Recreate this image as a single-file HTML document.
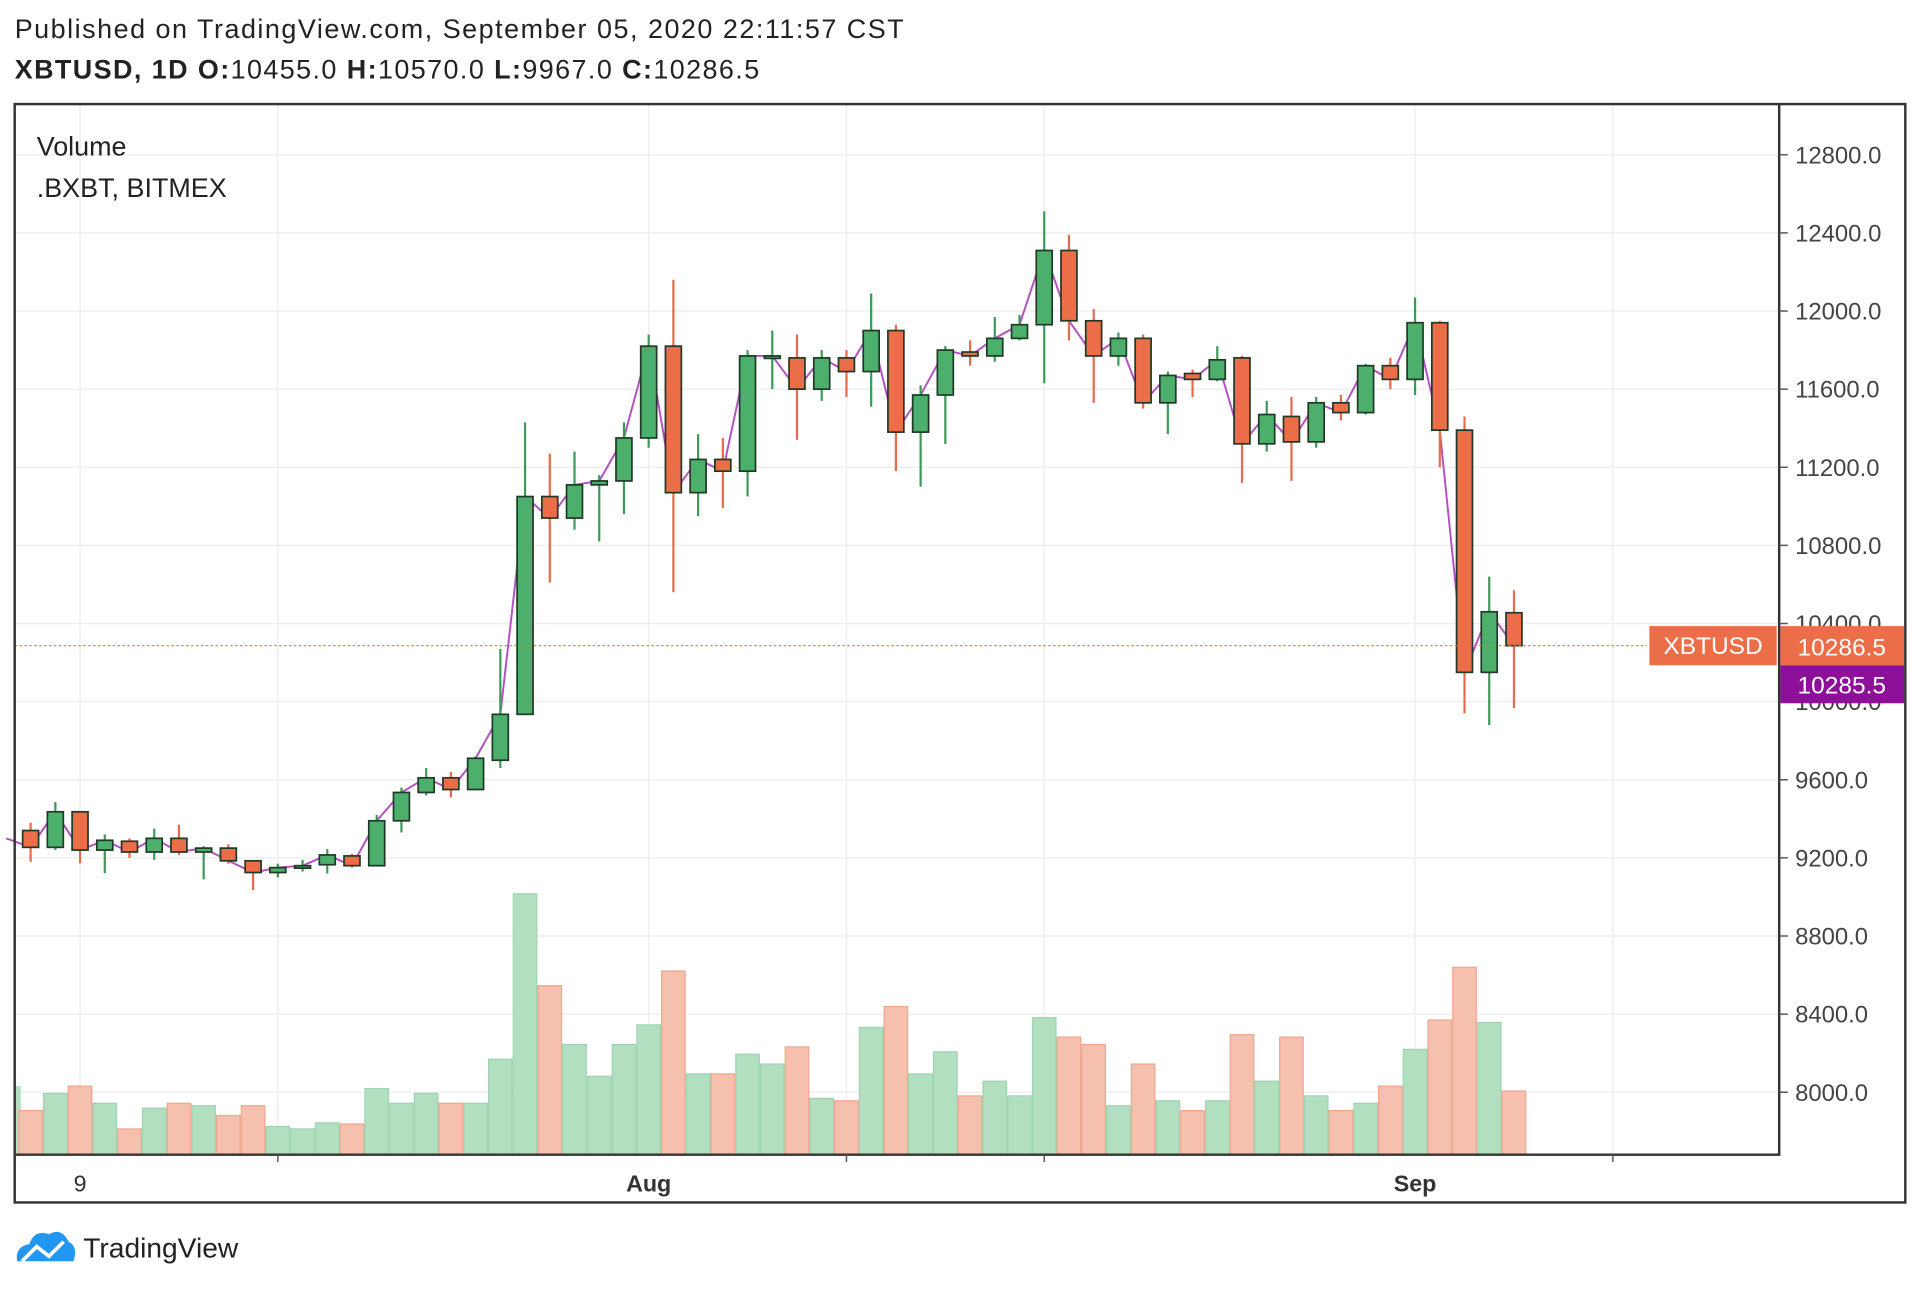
<!DOCTYPE html>
<html><head><meta charset="utf-8">
<style>
html,body{margin:0;padding:0;background:#fff;width:1920px;height:1290px;overflow:hidden}
svg{display:block}
text{font-family:"Liberation Sans",Arial,sans-serif}
</style></head>
<body>
<svg id="chart" width="1920" height="1290" viewBox="0 0 1568 1053.5" preserveAspectRatio="none" xmlns="http://www.w3.org/2000/svg">
<text x="12" y="31" font-size="22" fill="#222" textLength="726" lengthAdjust="spacing">Published on TradingView.com, September 05, 2020 22:11:57 CST</text>
<text x="12" y="64" font-size="22" fill="#222" textLength="608" lengthAdjust="spacing"><tspan font-weight="bold">XBTUSD, 1D  O:</tspan>10455.0 <tspan font-weight="bold">H:</tspan>10570.0 <tspan font-weight="bold">L:</tspan>9967.0 <tspan font-weight="bold">C:</tspan>10286.5</text>
<g id="grid"></g>
<g id="vol"></g>
<g id="candles"></g>
<g id="axes"></g>
<text x="30" y="127" font-size="22" fill="#222">Volume</text>
<text x="30" y="161" font-size="22" fill="#222">.BXBT, BITMEX</text>
<g>
<path d="M14 1030 Q12 1018 24 1016 Q28 1004 40 1008 Q50 1002 56 1014 Q64 1018 60 1030 Z" fill="#2196f3"/>
<path d="M18 1030 L30 1018 L40 1026 L52 1014" stroke="#fff" stroke-width="3" fill="none"/>
<text x="68" y="1027" font-size="23" fill="#222">TradingView</text>
</g>
</svg>
<script>
const dates=["Jul 7","Jul 8","Jul 9","Jul 10","Jul 11","Jul 12","Jul 13","Jul 14","Jul 15","Jul 16","Jul 17","Jul 18","Jul 19","Jul 20","Jul 21","Jul 22","Jul 23","Jul 24","Jul 25","Jul 26","Jul 27","Jul 28","Jul 29","Jul 30","Jul 31","Aug 1","Aug 2","Aug 3","Aug 4","Aug 5","Aug 6","Aug 7","Aug 8","Aug 9","Aug 10","Aug 11","Aug 12","Aug 13","Aug 14","Aug 15","Aug 16","Aug 17","Aug 18","Aug 19","Aug 20","Aug 21","Aug 22","Aug 23","Aug 24","Aug 25","Aug 26","Aug 27","Aug 28","Aug 29","Aug 30","Aug 31","Sep 1","Sep 2","Sep 3","Sep 4","Sep 5"];
const opens=[9340,9254,9436,9240,9285,9230,9300,9230,9250,9185,9125,9150,9165,9210,9160,9390,9535,9610,9550,9700,9935,11050,10940,11110,11130,11350,11820,11070,11240,11180,11760,11760,11600,11760,11690,11900,11380,11570,11790,11770,11860,11930,12310,11950,11770,11860,11530,11680,11650,11760,11320,11460,11330,11530,11480,11720,11650,11940,11390,10150,10455];
const highs=[9380,9486,9440,9320,9300,9350,9370,9260,9270,9160,9170,9190,9245,9220,9420,9560,9660,9640,9720,10270,11430,11270,11280,11160,11430,11880,12160,11370,11350,11800,11900,11880,11800,11800,12090,11930,11620,11820,11850,11970,11980,12510,12390,12010,11890,11880,11690,11700,11820,11770,11540,11560,11560,11570,11730,11760,12070,11950,11460,10640,10570];
const lows=[9180,9240,9172,9122,9200,9190,9215,9090,9170,9035,9100,9130,9120,9150,9160,9330,9520,9510,9545,9660,9935,10610,10880,10820,10960,11300,10560,10950,10990,11050,11600,11340,11540,11560,11510,11180,11100,11320,11720,11740,11850,11630,11850,11530,11720,11500,11370,11560,11640,11120,11280,11130,11300,11440,11470,11600,11570,11200,9940,9880,9967];
const closes=[9254,9436,9240,9290,9230,9300,9230,9250,9185,9125,9150,9160,9215,9160,9390,9535,9610,9550,9710,9935,11050,10940,11110,11130,11350,11820,11070,11240,11180,11770,11770,11600,11760,11690,11900,11380,11570,11800,11770,11860,11930,12310,11950,11770,11860,11530,11670,11650,11750,11320,11470,11330,11530,11480,11720,11650,11940,11390,10150,10460,10286.5];
const volumes=[36,50,56,42,21,38,42,40,32,40,23,21,26,25,54,42,50,42,42,78,213,138,90,64,90,106,150,66,66,82,74,88,46,44,104,121,66,84,48,60,48,112,96,90,40,74,44,36,44,98,60,96,48,36,42,56,86,110,153,108,52];
const priceTicks=[12800,12400,12000,11600,11200,10800,10400,10000,9600,9200,8800,8400,8000];
const timeLabels=["9","Aug","Sep"];
const timeLabelIdx=[2,25,56];
const lastPrice=10286.5, lastPrice2=10285.5;

const NS="http://www.w3.org/2000/svg";
const L=12,T=85,R=1556,B=982,PR=1453,PB=943;
const xOf=i=>25+i*20.19;
const yOf=p=>573-(p-10000)*63.8/400;
const yVol=v=>PB-v;
function mk(parent,tag,attrs){const e=document.createElementNS(NS,tag);for(const k in attrs)e.setAttribute(k,attrs[k]);parent.appendChild(e);return e;}
const grid=document.getElementById('grid'),vol=document.getElementById('vol'),cg=document.getElementById('candles'),ax=document.getElementById('axes');
priceTicks.forEach(p=>{const g=mk(grid,'line',{x1:L,x2:PR,y1:yOf(p),y2:yOf(p),stroke:'#efefef','stroke-width':1.2});

});
[2,10,25,33,41,56,64].forEach(i=>{const g=mk(grid,'line',{x1:xOf(i),x2:xOf(i),y1:T,y2:PB,stroke:'#efefef','stroke-width':1.2});

});
const v0=mk(vol,'rect',{x:L,y:yVol(56),width:5,height:56,fill:'#b3dfc1'});


volumes.forEach((v,i)=>{const up=closes[i]>=opens[i];
const r=mk(vol,'rect',{x:xOf(i)-9.6,y:yVol(v),width:19.2,height:v,fill:up?'#b3dfc1':'#f6c0ae',stroke:up?'#9fd4b0':'#eea68f','stroke-width':1});

});
const pts=closes.map((c,i)=>xOf(i)+','+yOf(c)).join(' ');
const pl=mk(cg,'polyline',{points:'5,'+yOf(9300)+' '+pts,fill:'none',stroke:'#b44fc4','stroke-width':1.6});


dates.forEach((d,i)=>{const up=closes[i]>=opens[i];const col=up?'#4cb06c':'#ec6e48';const wick=up?'#3c9a58':'#e86a4a';
const x=xOf(i);
const w=mk(cg,'line',{x1:x,x2:x,y1:yOf(highs[i]),y2:yOf(lows[i]),stroke:wick,'stroke-width':1.8});


const top=yOf(Math.max(opens[i],closes[i])),bot=yOf(Math.min(opens[i],closes[i]));
const b=mk(cg,'rect',{x:x-6.5,y:top,width:13,height:Math.max(bot-top,2),fill:col,stroke:'#1f3a26','stroke-width':1.4});

});
const lp=mk(ax,'line',{x1:L,x2:1345,y1:yOf(lastPrice),y2:yOf(lastPrice),stroke:'#ec6e48','stroke-width':1,'stroke-dasharray':'2,2'});


const fr=mk(ax,'rect',{x:L,y:T,width:R-L,height:B-T,fill:'none',stroke:'#333','stroke-width':2});


const pa=mk(ax,'line',{x1:PR,x2:PR,y1:T,y2:PB,stroke:'#333','stroke-width':2});


const ta=mk(ax,'line',{x1:L,x2:PR+1,y1:PB,y2:PB,stroke:'#333','stroke-width':2});


priceTicks.forEach(p=>{const y=yOf(p);
mk(ax,'line',{x1:PR,x2:PR+7,y1:y,y2:y,stroke:'#555','stroke-width':1.2});
const t=mk(ax,'text',{x:1466,y:y+7,'font-size':19.5,fill:'#444'});t.textContent=p.toFixed(1);

});
[10,33,41,64].forEach(i=>mk(ax,'line',{x1:xOf(i),x2:xOf(i),y1:PB,y2:PB+6,stroke:'#555','stroke-width':1.2}));
timeLabels.forEach((s,k)=>{const t=mk(ax,'text',{x:xOf(timeLabelIdx[k]),y:973,'font-size':19,fill:'#333','text-anchor':'middle','font-weight':s==='9'?'normal':'bold'});t.textContent=s;

});
const yl=yOf(lastPrice);
const sb=mk(ax,'rect',{x:1347,y:yl-16,width:104,height:32,fill:'#ec6e48'});


const st=mk(ax,'text',{x:1399,y:yl+7,'font-size':20,fill:'#fff','text-anchor':'middle'});st.textContent='XBTUSD';


const pb=mk(ax,'rect',{x:PR+1,y:yl-16,width:R-PR-2,height:32,fill:'#ec6e48'});


const pt=mk(ax,'text',{x:1468,y:yl+8,'font-size':20,fill:'#fff'});pt.textContent=lastPrice.toFixed(1);


const qb=mk(ax,'rect',{x:PR+1,y:yl+16,width:R-PR-2,height:31,fill:'#8e0f99'});


const qt=mk(ax,'text',{x:1468,y:yl+39,'font-size':20,fill:'#fff'});qt.textContent=lastPrice2.toFixed(1);


</script>
</body></html>
